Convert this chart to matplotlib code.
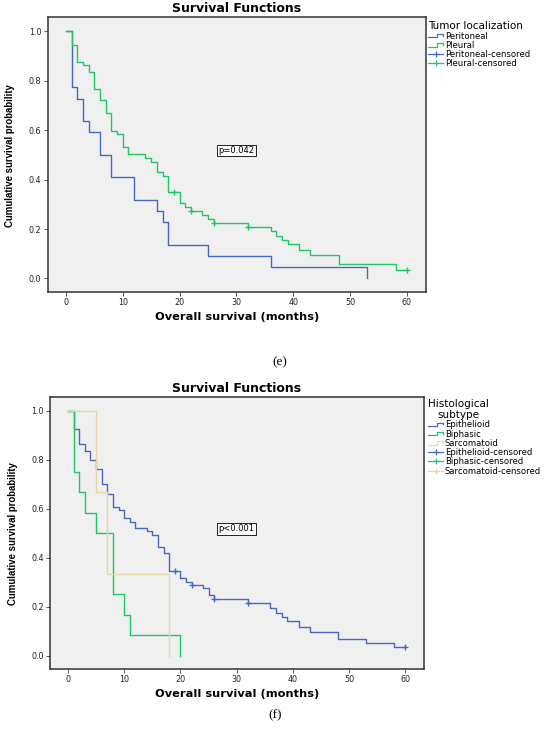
import numpy as np
import matplotlib
matplotlib.use('Agg')
import matplotlib.pyplot as plt
from matplotlib.lines import Line2D
from matplotlib.legend_handler import HandlerBase

# ---- data (months, survival probability) ----
# (e) tumor localization
peritoneal_t = [0, 1, 2, 3, 4, 6, 8, 12, 16, 17, 18, 25, 36, 53]
peritoneal_s = [1.0, 0.773, 0.727, 0.636, 0.591, 0.5, 0.409, 0.318, 0.273, 0.227, 0.136, 0.091, 0.045, 0.0]
peritoneal_cens = []

pleural_t = [0, 1, 2, 3, 4, 5, 6, 7, 8, 9, 10, 11, 14, 15, 16, 17, 18, 20, 21, 22, 24, 25, 26,
             32, 36, 37, 38, 39, 41, 43, 48, 58, 60]
pleural_s = [1.0, 0.946, 0.878, 0.862, 0.835, 0.766, 0.723, 0.669, 0.598, 0.585, 0.53, 0.503, 0.489,
             0.473, 0.432, 0.416, 0.35, 0.304, 0.29, 0.274, 0.257, 0.239, 0.224,
             0.208, 0.19, 0.172, 0.155, 0.138, 0.115, 0.094, 0.057, 0.036, 0.036]
pleural_cens = [19, 22, 26, 32, 60]

# (f) histological subtype
epi_t = [0, 1, 2, 3, 4, 5, 6, 7, 8, 9, 10, 11, 12, 14, 15, 16, 17, 18, 20, 21, 22, 24, 25, 26,
         32, 36, 37, 38, 39, 41, 43, 48, 53, 58, 60]
epi_s = [1.0, 0.925, 0.864, 0.837, 0.8, 0.761, 0.7, 0.659, 0.608, 0.595, 0.56, 0.546, 0.519, 0.508,
         0.492, 0.445, 0.42, 0.346, 0.316, 0.302, 0.288, 0.275, 0.248, 0.231,
         0.214, 0.194, 0.173, 0.157, 0.139, 0.116, 0.098, 0.067, 0.051, 0.033, 0.033]
epi_cens = [19, 22, 26, 32, 60]

bip_t = [0, 1, 2, 3, 5, 8, 10, 11, 20]
bip_s = [1.0, 0.75, 0.667, 0.583, 0.5, 0.25, 0.167, 0.083, 0.0]
bip_cens = []

sarc_t = [0, 5, 7, 18]
sarc_s = [1.0, 0.667, 0.333, 0.0]
sarc_cens = []

xticks = [0, 10, 20, 30, 40, 50, 60]
yticks = [0.0, 0.2, 0.4, 0.6, 0.8, 1.0]

BLUE = '#4a68c0'
GREEN = '#1fc766'
BEIGE = '#e3d8a6'


class StepHandler(HandlerBase):
    # little step glyph like the SPSS legend
    def create_artists(self, legend, orig_handle, xdescent, ydescent, width, height, fontsize, trans):
        x0, y0 = -xdescent, -ydescent
        xs = [x0, x0 + 0.6 * width, x0 + 0.6 * width, x0 + width, x0 + width]
        ys = [y0 + 0.2 * height, y0 + 0.2 * height, y0 + 0.8 * height, y0 + 0.8 * height, y0 + 0.5 * height]
        ln = Line2D(xs, ys, color=orig_handle.get_color(), lw=orig_handle.get_linewidth())
        ln.set_transform(trans)
        return [ln]


def surv_at(t, s, x):
    idx = np.searchsorted(t, x, side='right') - 1
    return np.array(s)[idx]


def km_panel(ax, curves, pval):
    ax.set_facecolor('#f0f0f0')
    for t, s, cens, col in curves:
        ax.plot(t, s, drawstyle='steps-post', color=col, lw=1.0)
        if cens:
            ax.plot(cens, surv_at(t, s, cens), ls='none', marker='+', color=col, ms=5, mew=1.0)
    ax.set_xlim(-3.2, 63.3)
    ax.set_ylim(-0.055, 1.057)
    ax.set_xticks(xticks)
    ax.set_yticks(yticks)
    ax.set_yticklabels(['%.1f' % v for v in yticks])
    ax.tick_params(labelsize=5.8, length=3, width=0.7, pad=1.5, color='#555555', labelcolor='#222222')
    for sp in ax.spines.values():
        sp.set_linewidth(1.1)
        sp.set_color('#333333')
    ax.text(0.5, 1.031, 'Survival Functions', transform=ax.transAxes, ha='center', va='center',
            fontsize=9, fontweight='bold')
    ax.text(0.5, -0.091, 'Overall survival (months)', transform=ax.transAxes, ha='center', va='center',
            fontsize=8.2, fontweight='bold')
    ax.text(-0.099, 0.497, 'Cumulative survival probability', transform=ax.transAxes, ha='center',
            va='center', rotation=90, fontsize=6.9, fontweight='bold', family='Liberation Sans')
    ax.text(30, 0.517, pval, ha='center', va='center', fontsize=6,
            bbox=dict(boxstyle='square,pad=0.15', fc='white', ec='black', lw=0.6))


def add_legend(fig, names, colors, title, anchor):
    handles, labels = [], []
    for n, c in zip(names, colors):
        handles.append(Line2D([], [], color=c, lw=0.9))
        labels.append(n)
    for n, c in zip(names, colors):
        handles.append(Line2D([], [], color=c, lw=0.9, marker='+', ms=5, mew=0.9))
        labels.append(n + '-censored')
    hmap = {h: StepHandler() for h in handles[:len(names)]}
    leg = fig.legend(handles, labels, loc='upper left', bbox_to_anchor=anchor, frameon=False,
                     fontsize=6.1, title=title, title_fontsize=7.5, handlelength=1.8,
                     handletextpad=0.2, labelspacing=0.03, borderpad=0, borderaxespad=0,
                     alignment='left', handler_map=hmap)
    leg.get_title().set_multialignment('center')
    return leg


fig = plt.figure(figsize=(5.5, 7.34), dpi=100)

ax1 = fig.add_axes([0.0867, 0.6022, 0.6873, 0.3742])
km_panel(ax1, [(peritoneal_t, peritoneal_s, peritoneal_cens, BLUE),
               (pleural_t, pleural_s, pleural_cens, GREEN)], 'p=0.042')
add_legend(fig, ['Peritoneal', 'Pleural'], [BLUE, GREEN], 'Tumor localization', (0.778, 0.971))

ax2 = fig.add_axes([0.0909, 0.0886, 0.68, 0.3709])
km_panel(ax2, [(epi_t, epi_s, epi_cens, BLUE),
               (bip_t, bip_s, bip_cens, GREEN),
               (sarc_t, sarc_s, sarc_cens, BEIGE)], 'p<0.001')
add_legend(fig, ['Epithelioid', 'Biphasic', 'Sarcomatoid'], [BLUE, GREEN, BEIGE],
           'Histological\nsubtype', (0.778, 0.457))

fig.text(0.509, 0.507, '(e)', ha='center', va='center', fontsize=9.5, family='Liberation Serif')
fig.text(0.5, 0.026, '(f)', ha='center', va='center', fontsize=9.5, family='Liberation Serif')

fig.savefig('out.png', dpi=100, facecolor='white')
